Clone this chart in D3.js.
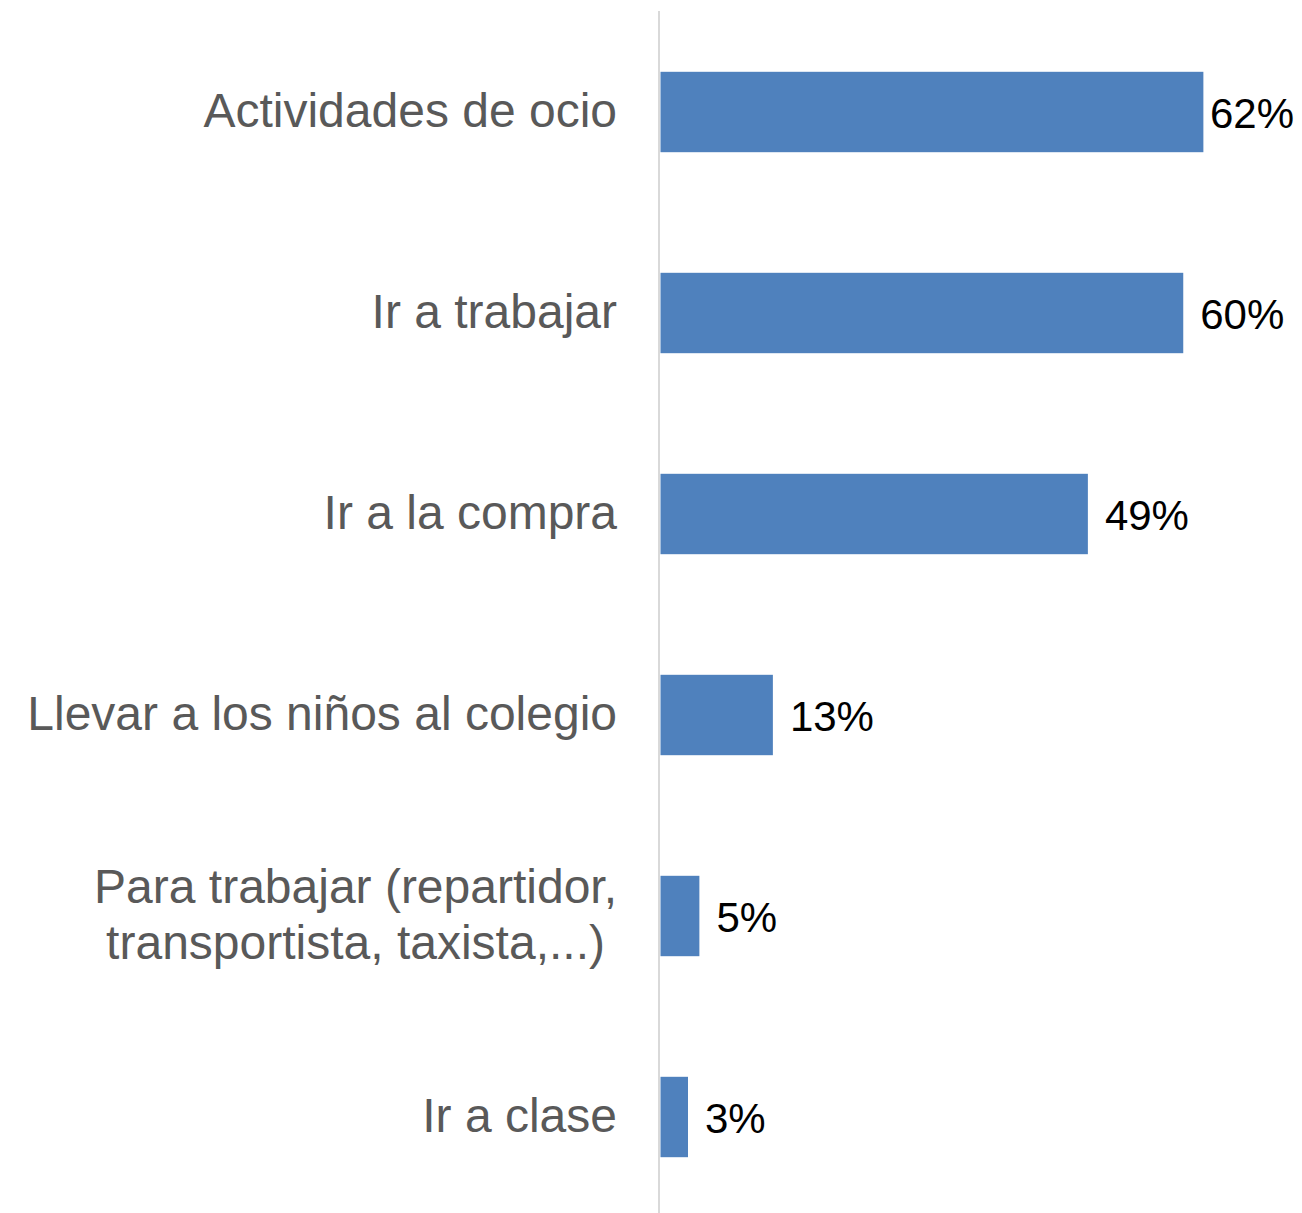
<!DOCTYPE html>
<html>
<head>
<meta charset="utf-8">
<script src="https://cdn.jsdelivr.net/npm/d3@7"></script>
<style>
  html, body { margin: 0; padding: 0; background: #ffffff; }
  svg { display: block; }
</style>
</head>
<body>
<svg id="chart" width="1302" height="1213"></svg>
<script>
// Data
const categories = [
  "Actividades de ocio",
  "Ir a trabajar",
  "Ir a la compra",
  "Llevar a los niños al colegio",
  "Para trabajar (repartidor,\ntransportista, taxista,...)",
  "Ir a clase"
];
const values = [62.1, 59.8, 48.9, 12.9, 4.5, 3.2];
const valueLabels = ["62%", "60%", "49%", "13%", "5%", "3%"];

const W = 1302, H = 1213;
const svg = d3.select("#chart");

const x = d3.scaleLinear().domain([0, 100]).range([660, 660 + 875]);
const y = d3.scaleBand()
  .domain(d3.range(categories.length))
  .range([11.5, 11.5 + 201 * 6])
  .paddingInner(0.6)
  .paddingOuter(0.3);

// Axis line
svg.append("line")
  .attr("x1", 659).attr("x2", 659)
  .attr("y1", 11).attr("y2", H)
  .attr("stroke", "#d9d9d9").attr("stroke-width", 2);

// Bars
svg.selectAll("rect.bar")
  .data(values)
  .join("rect")
  .attr("class", "bar")
  .attr("x", x(0) + 0.5)
  .attr("y", (d, i) => y(i))
  .attr("width", d => x(d) - x(0) - 0.5)
  .attr("height", y.bandwidth())
  .attr("fill", "#4f81bd");

// Value labels
svg.selectAll("text.val")
  .data(values)
  .join("text")
  .attr("class", "val")
  .attr("font-family", "'Liberation Sans', Arial, sans-serif")
  .attr("font-size", 42)
  .attr("fill", "#000000")
  .attr("y", (d, i) => y(i) + y.bandwidth() / 2 + 16)
  .text((d, i) => valueLabels[i])
  .each(function (d) {
    const w = this.getComputedTextLength();
    const xs = Math.min(x(d) + 17, W - 8 - w);
    d3.select(this).attr("x", xs);
  });

// Category labels
const rightEdge = 617;
categories.forEach((c, i) => {
  const lines = c.split("\n");
  const cy = y(i) + y.bandwidth() / 2;
  const g = svg.append("text")
    .attr("font-family", "'Liberation Sans', Arial, sans-serif")
    .attr("font-size", 48)
    .attr("fill", "#595959");
  if (lines.length === 1) {
    g.attr("text-anchor", "end").attr("x", rightEdge).attr("y", cy + 15).text(c);
  } else {
    const lh = 56;
    const first = cy + 15 - lh * (lines.length - 1) / 2;
    const spans = lines.map((l, k) => g.append("tspan").attr("y", first + k * lh).text(l));
    let maxW = 0;
    spans.forEach(s => { maxW = Math.max(maxW, s.node().getComputedTextLength()); });
    g.attr("text-anchor", "middle");
    spans.forEach(s => s.attr("x", rightEdge - maxW / 2));
  }
});
</script>
</body>
</html>
